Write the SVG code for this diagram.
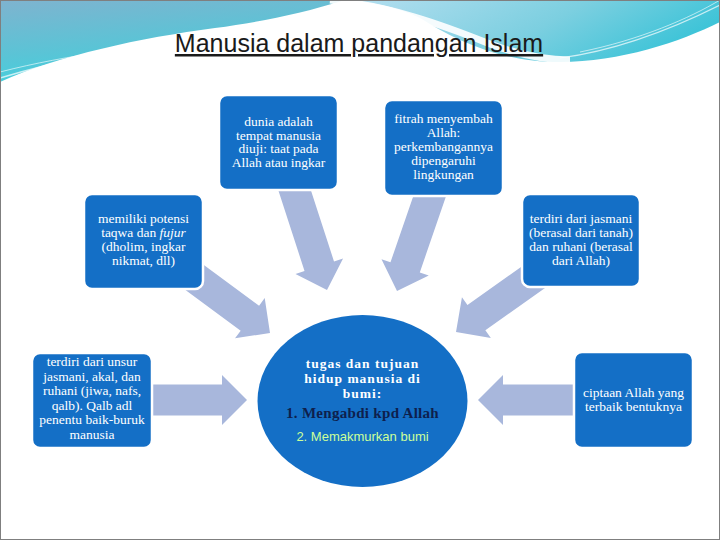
<svg xmlns="http://www.w3.org/2000/svg" width="720" height="540" viewBox="0 0 720 540">
<defs>
<linearGradient id="gl" x1="0" y1="0" x2="0.4" y2="1">
<stop offset="0" stop-color="#7fb3cf"/>
<stop offset="0.6" stop-color="#5ac4d6"/>
<stop offset="1" stop-color="#3fd3df"/>
</linearGradient>
<linearGradient id="gr" x1="0" y1="0" x2="1" y2="0.3">
<stop offset="0" stop-color="#b6dff0"/>
<stop offset="0.6" stop-color="#7ccfe0"/>
<stop offset="1" stop-color="#3fc4d8"/>
</linearGradient>
<path id="arr" d="M0,0 L-25,-25 L-25,-15.5 L-118,-15.5 L-118,15.5 L-25,15.5 L-25,25 Z"/>
<style>
.box{fill:#146fc6;stroke:#ffffff;stroke-width:2.5}
.t{font-family:"Liberation Serif","DejaVu Serif",serif;font-size:13.5px;fill:#ffffff;text-anchor:middle}
.c{font-family:"Liberation Serif","DejaVu Serif",serif;font-size:13.5px;font-weight:bold;fill:#ffffff;text-anchor:middle;letter-spacing:1px}
.arrow{fill:#a8b7dc}
</style>
</defs>
<rect x="0" y="0" width="720" height="540" fill="#ffffff"/>
<g id="background">
<path d="M0,0 H345 C300,14 260,22 215,28 C140,38 60,55 0,82 Z" fill="url(#gl)"/>
<path d="M345,0 H720 V22 C680,42 620,62 560,62 C500,62 455,40 420,18 C395,6 370,2 345,0 Z" fill="url(#gr)"/>
<path d="M330,0 C390,6 440,24 490,44 C520,55 545,60 570,60" fill="none" stroke="#ffffff" stroke-width="7" opacity="0.9"/>
<path d="M0,78 C60,60 120,48 200,42" fill="none" stroke="#ffffff" stroke-width="1.5" opacity="0.7"/>
<path d="M0,72 C70,54 140,46 230,40" fill="none" stroke="#ffffff" stroke-width="1" opacity="0.6"/>
<path d="M560,58 C620,50 680,25 720,5" fill="none" stroke="#ffffff" stroke-width="1.2" opacity="0.7"/>
<path d="M580,52 C640,40 690,18 720,0" fill="none" stroke="#ffffff" stroke-width="1" opacity="0.6"/>
<rect x="0.5" y="0.5" width="719" height="539" fill="none" stroke="#7f7f7f" stroke-width="1"/>
</g>
<g id="title">
<text x="359" y="52" font-family="'Liberation Sans',Arial,sans-serif" font-size="25" fill="#1a1a1a" text-anchor="middle" text-decoration="underline">Manusia dalam pandangan Islam</text>
</g>
<g id="connectors">
<use href="#arr" class="arrow" transform="translate(247,400)"/>
<use href="#arr" class="arrow" transform="translate(478,400) rotate(180)"/>
<use href="#arr" class="arrow" transform="translate(327,290) rotate(72)"/>
<use href="#arr" class="arrow" transform="translate(397,291) rotate(109)"/>
<use href="#arr" class="arrow" transform="translate(270,333) rotate(36.4)"/>
<use href="#arr" class="arrow" transform="translate(456,332) rotate(144.7)"/>
</g>
<g id="node-dunia">
<rect class="box" x="219" y="95" width="119" height="95" rx="8"/>
<text class="t" x="278.5" y="126">dunia adalah</text>
<text class="t" x="278.5" y="139.5">tempat manusia</text>
<text class="t" x="278.5" y="153">diuji: taat pada</text>
<text class="t" x="278.5" y="166.5">Allah atau ingkar</text>
</g>
<g id="node-fitrah">
<rect class="box" x="384" y="100" width="119" height="96" rx="8"/>
<text class="t" x="443.5" y="123">fitrah menyembah</text>
<text class="t" x="443.5" y="137">Allah:</text>
<text class="t" x="443.5" y="151">perkembangannya</text>
<text class="t" x="443.5" y="165">dipengaruhi</text>
<text class="t" x="443.5" y="179">lingkungan</text>
</g>
<g id="node-potensi">
<rect class="box" x="84" y="194" width="119" height="95" rx="8"/>
<text class="t" x="143.5" y="223">memiliki potensi</text>
<text class="t" x="143.5" y="237">taqwa dan <tspan font-style="italic">fujur</tspan></text>
<text class="t" x="143.5" y="251">(dholim, ingkar</text>
<text class="t" x="143.5" y="265">nikmat, dll)</text>
</g>
<g id="node-jasmani">
<rect class="box" x="522" y="194" width="118" height="93" rx="8"/>
<text class="t" x="581" y="223">terdiri dari jasmani</text>
<text class="t" x="581" y="237">(berasal dari tanah)</text>
<text class="t" x="581" y="251">dan ruhani (berasal</text>
<text class="t" x="581" y="265">dari Allah)</text>
</g>
<g id="node-unsur">
<rect class="box" x="32" y="353" width="120" height="95" rx="8"/>
<text class="t" x="92" y="366">terdiri dari unsur</text>
<text class="t" x="92" y="381">jasmani, akal, dan</text>
<text class="t" x="92" y="395">ruhani (jiwa, nafs,</text>
<text class="t" x="92" y="410">qalb). Qalb adl</text>
<text class="t" x="92" y="424">penentu baik-buruk</text>
<text class="t" x="92" y="439">manusia</text>
</g>
<g id="node-ciptaan">
<rect class="box" x="574" y="352" width="119" height="96" rx="8"/>
<text class="t" x="633.5" y="397">ciptaan Allah yang</text>
<text class="t" x="633.5" y="411">terbaik bentuknya</text>
</g>
<g id="node-center">
<ellipse cx="362.5" cy="401" rx="105" ry="86" fill="#146fc6"/>
<text class="c" x="362.5" y="368">tugas dan tujuan</text>
<text class="c" x="362.5" y="383">hidup manusia di</text>
<text class="c" x="362.5" y="398">bumi:</text>
<text class="c" x="362.5" y="418" style="fill:#0e1f4d;letter-spacing:0.3px;font-size:15px">1. Mengabdi kpd Allah</text>
<text x="362.5" y="441" font-family="'Liberation Sans',Arial,sans-serif" font-size="13" fill="#ccff99" text-anchor="middle">2. Memakmurkan bumi</text>
</g>
</svg>
